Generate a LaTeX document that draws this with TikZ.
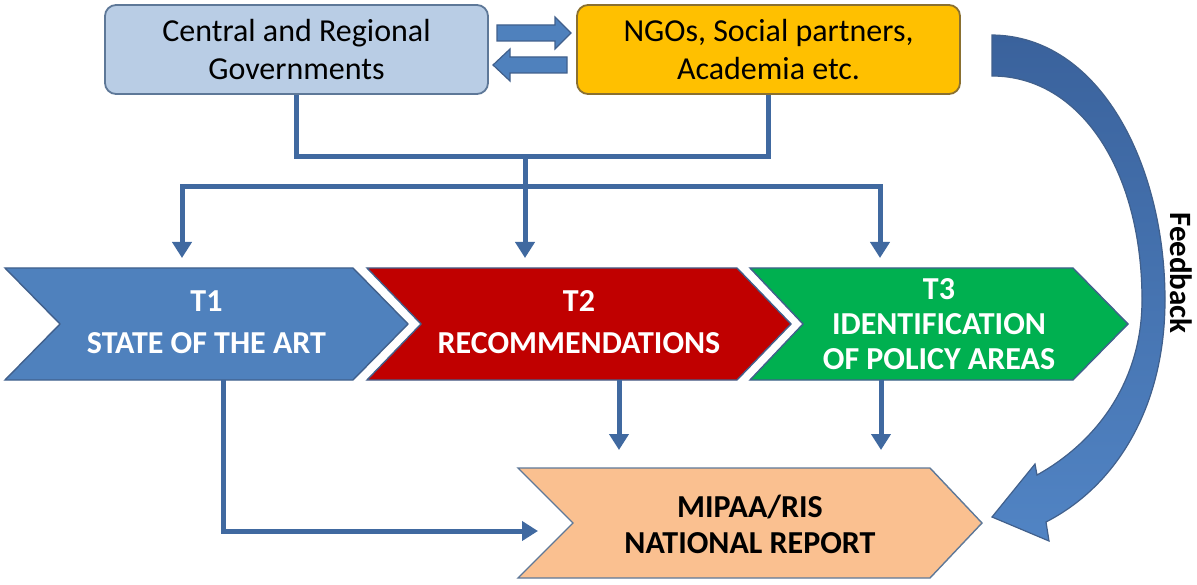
\documentclass[tikz,border=0pt]{standalone}
\usepackage{fontspec}
\setmainfont{Carlito}
\usetikzlibrary{arrows.meta,calc}

\definecolor{govfill}{HTML}{B9CDE5}
\definecolor{govline}{HTML}{5E7898}
\definecolor{ngofill}{HTML}{FFC000}
\definecolor{ngoline}{HTML}{8A7030}
\definecolor{tblue}{HTML}{4F81BD}
\definecolor{tred}{HTML}{C00000}
\definecolor{tgreen}{HTML}{00B050}
\definecolor{repfill}{HTML}{FAC090}
\definecolor{chevline}{HTML}{41608C}
\definecolor{conn}{HTML}{4069A0}
\definecolor{fbtop}{HTML}{3A629C}
\definecolor{fbbot}{HTML}{5184C4}

\tikzset{
  x=1pt, y=-1pt,
  roundbox/.style={draw, line width=1.8pt, rounded corners=11pt,
    minimum width=383pt, minimum height=89pt, align=center,
    font=\fontsize{32}{38}\selectfont, inner sep=0pt},
  chev/.style={draw=chevline, line width=1.4pt},
  chevtext/.style={align=center, font=\bfseries\fontsize{32}{#1}\selectfont,
    inner sep=0pt},
  link/.style={draw=conn, line width=5pt},
  linkarrow/.style={link, -{Triangle[width=19pt,length=16pt]}},
  blockarrow/.style={fill=tblue, draw=chevline, line width=1.2pt},
}

\begin{document}
\begin{tikzpicture}
\useasboundingbox (0,0) rectangle (1197,585);

% top boxes
\node[roundbox, fill=govfill, draw=govline] (gov) at (296.5,49.5)
  {Central and Regional\\Governments};
\node[roundbox, fill=ngofill, draw=ngoline] (ngo) at (768.5,49.5)
  {NGOs, Social partners,\\Academia etc.};

% exchange arrows between the two boxes
\path[blockarrow] (497,25) -- (555,25) -- (555,17) -- (571,33) -- (555,49)
  -- (555,41) -- (497,41) -- cycle;
\path[blockarrow] (567,57) -- (510,57) -- (510,49) -- (493,65) -- (510,81)
  -- (510,73) -- (567,73) -- cycle;

% process chevrons
\path[chev, fill=tblue]  (5,268) -- (353,268) -- (408,324) -- (353,380)
  -- (5,380) -- (60,324) -- cycle;
\path[chev, fill=tred]   (367,268) -- (737,268) -- (791,324) -- (737,380)
  -- (367,380) -- (421,324) -- cycle;
\path[chev, fill=tgreen] (750,268) -- (1073,268) -- (1128,324) -- (1073,380)
  -- (750,380) -- (803,324) -- cycle;
\path[chev, fill=repfill, draw=govline] (518,468) -- (930,468) -- (982,523)
  -- (930,578) -- (518,578) -- (573,523) -- cycle;

\node[chevtext=42, text=white] (t1) at (206.5,322) {T1\\STATE OF THE ART};
\node[chevtext=42, text=white] (t2) at (579,322) {T2\\RECOMMENDATIONS};
\node[chevtext=35, text=white] (t3) at (939,324)
  {T3\\IDENTIFICATION\\OF POLICY AREAS};
\node[chevtext=36, text=black] (rep) at (750,524) {MIPAA/RIS\\NATIONAL REPORT};

% connector junctions
\coordinate (jn)  at (525,157);
\coordinate (jn2) at (525,187);
\coordinate (in1) at (182,258);
\coordinate (in2) at (525,258);
\coordinate (in3) at (880,258);
\coordinate (t1out) at (223,380);
\coordinate (t2out) at (619,380);
\coordinate (t3out) at (881,380);
\coordinate (repin) at (538,531);
\coordinate (t2in) at (619,450);
\coordinate (t3in) at (881,450);

\draw[link] (gov.south) |- (jn) -| (ngo.south);
\draw[linkarrow] (jn) -- (in2);
\draw[linkarrow] (jn2) -| (in1);
\draw[linkarrow] (jn2) -| (in3);
\draw[linkarrow] (t1out) |- (repin);
\draw[linkarrow] (t2out) -- (t2in);
\draw[linkarrow] (t3out) -- (t3in);

% feedback curved arrow
\path[top color=fbtop, bottom color=fbbot, draw=chevline, line width=1.2pt]
  (992,35) .. controls (1100,36) and (1165,165) .. (1165,300)
  .. controls (1165,405) and (1118,485) .. (1046,522)
  -- (1049,541) -- (992,517) -- (1035,464) -- (1037,475)
  .. controls (1100,440) and (1142,378) .. (1142,300)
  .. controls (1142,170) and (1080,76) .. (992,76) -- cycle;
\node[rotate=-90, font=\bfseries\fontsize{31}{36}\selectfont, inner sep=0pt]
  (fb) at (1181,273) {Feedback};

\end{tikzpicture}
\end{document}
